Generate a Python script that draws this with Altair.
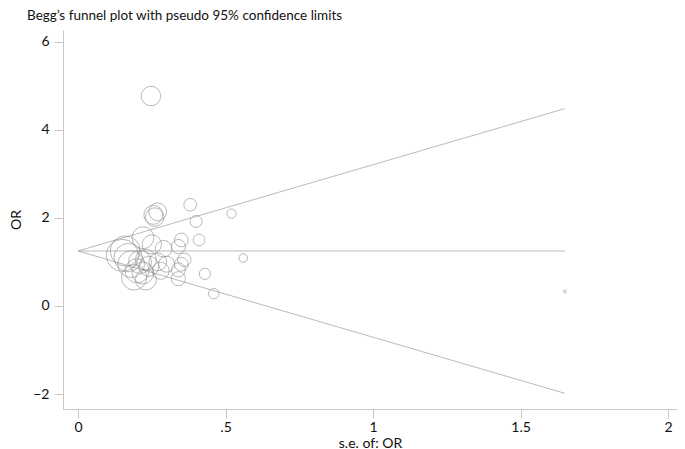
import altair as alt
import pandas as pd

# standard errors and OR estimates
se = [0.247, 0.26, 0.27, 0.255, 0.38, 0.40, 0.52, 0.35, 0.41, 0.56, 0.43, 0.46, 1.65,
      0.34, 0.35, 0.34, 0.34, 0.29, 0.16, 0.15, 0.18, 0.20, 0.22, 0.19, 0.23, 0.24,
      0.25, 0.22, 0.27, 0.28, 0.21, 0.30, 0.23, 0.36, 0.17]
orv = [4.77, 2.02, 2.14, 2.07, 2.30, 1.92, 2.10, 1.50, 1.50, 1.09, 0.73, 0.28, 0.33,
       1.35, 0.95, 0.82, 0.62, 1.30, 1.25, 1.15, 0.95, 0.80, 0.75, 0.65, 1.05, 0.90,
       1.40, 1.55, 1.00, 0.80, 1.00, 0.95, 0.60, 1.05, 1.10]

pooled = 1.25
se_max = 1.65
z = 1.96

pts = pd.DataFrame({"se": se, "OR": orv})
lines = pd.DataFrame({
    "x0": [0, 0, 0],
    "x1": [se_max, se_max, se_max],
    "y0": [pooled, pooled, pooled],
    "y1": [pooled, pooled + z * se_max, pooled - z * se_max],
})

FONT = "Lato"

xs = alt.Scale(domain=[-0.051, 2.03], nice=False, zero=False)
ys = alt.Scale(domain=[-2.34, 6.27], nice=False, zero=False)

xaxis = alt.Axis(values=[0, 0.5, 1, 1.5, 2],
                 labelExpr="replace(format(datum.value, '~g'), /^0\\./, '.')",
                 title="s.e. of: OR", grid=False, tickSize=9, labelPadding=2,
                 domainColor="#c8c8c8", tickColor="#c8c8c8", labelFontSize=14, titleFontSize=14,
                 labelFont=FONT, titleFont=FONT, labelColor="#111", titleColor="#111",
                 titleFontWeight="normal", titlePadding=2, labelFlush=False)
yaxis = alt.Axis(values=[-2, 0, 2, 4, 6],
                 labelExpr="replace(format(datum.value, 'd'), '-', '\u2212')",
                 title="OR", grid=False, tickSize=9, labelPadding=5,
                 domainColor="#c8c8c8", tickColor="#c8c8c8", labelFontSize=14, titleFontSize=14,
                 labelFont=FONT, titleFont=FONT, labelColor="#111", titleColor="#111",
                 titleFontWeight="normal", titlePadding=9, labelFlush=False)

rules = alt.Chart(lines).mark_rule(color="#a8a8a8", strokeWidth=0.8).encode(
    x=alt.X("x0:Q", scale=xs, axis=xaxis),
    x2="x1:Q",
    y=alt.Y("y0:Q", scale=ys, axis=yaxis),
    y2="y1:Q",
)

circles = alt.Chart(pts).transform_calculate(
    w="1 / (datum.se * datum.se)"
).mark_point(shape="circle", filled=False, color="#8a8a8a", strokeWidth=0.6, opacity=1).encode(
    x=alt.X("se:Q", scale=xs, axis=xaxis),
    y=alt.Y("OR:Q", scale=ys, axis=yaxis),
    size=alt.Size("w:Q", scale=alt.Scale(type="linear", domain=[0, 50], range=[0, 1160]), legend=None),
)

chart = (rules + circles).properties(
    width=614, height=379,
    title=alt.Title("Begg\u2019s funnel plot with pseudo 95% confidence limits", anchor="start",
                    frame="group", fontSize=13.5, font=FONT, fontWeight="normal", color="#111",
                    dx=-36, offset=8),
    padding={"left": 55, "top": 22, "right": 0, "bottom": 40},
    autosize=alt.AutoSizeParams(type="none"),
).configure_view(stroke=None)

chart.save("out.html", embed_options={"renderer": "svg", "actions": False})
